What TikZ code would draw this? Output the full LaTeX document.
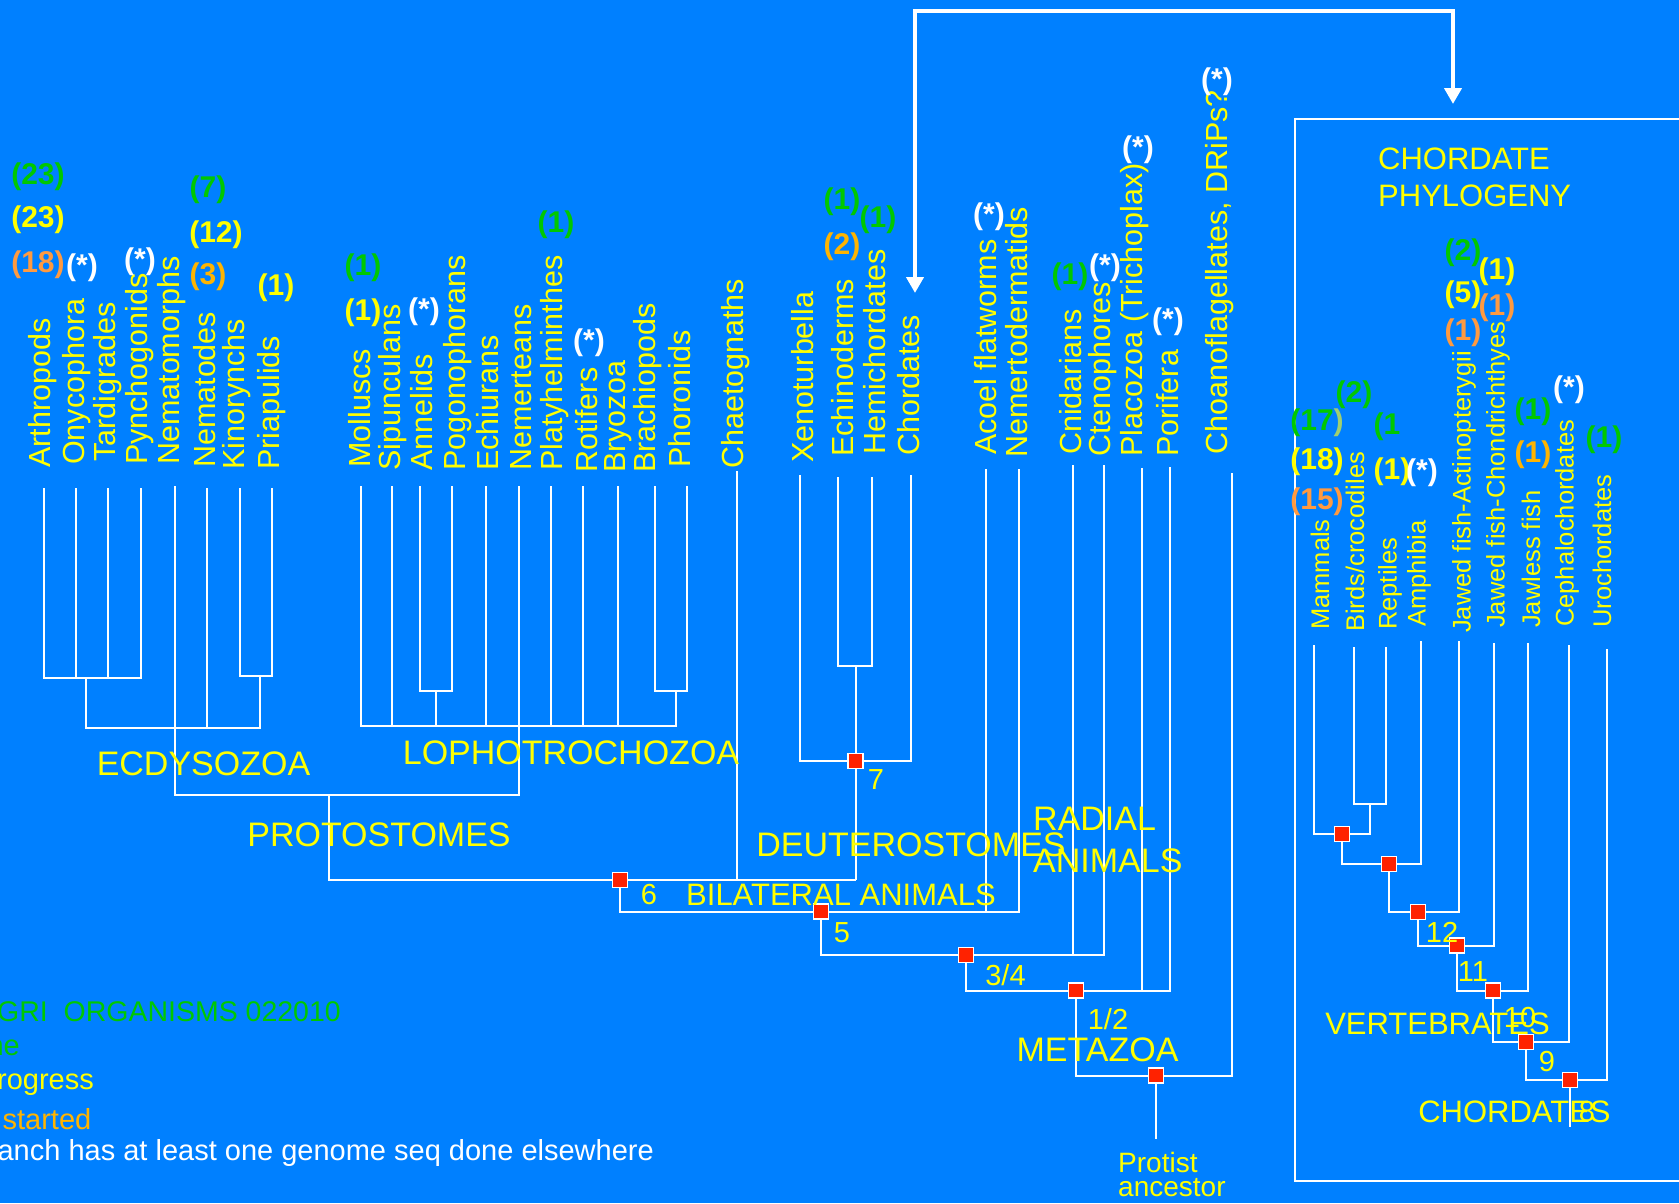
\documentclass[tikz,border=0pt]{standalone}
\usepackage{fontspec}
\setmainfont{Liberation Sans}
\usepackage{tikz}
\usetikzlibrary{arrows.meta}
\definecolor{phBlue}{HTML}{0080FF}
\definecolor{phYellow}{HTML}{FFFF00}
\definecolor{phGreen}{HTML}{00C800}
\definecolor{phPale}{HTML}{A0D070}
\definecolor{phOrange}{HTML}{FF9A40}
\definecolor{phAmber}{HTML}{FFB400}
\definecolor{phRed}{HTML}{FF2200}

\begin{document}
\begin{tikzpicture}[x=1pt, y=-1pt,
  br/.style={white, line width=2pt},
  flow/.style={white, line width=4.3pt, {Triangle[width=17pt,length=16pt]}-{Triangle[width=17pt,length=16pt]}},
  taxon/.style={rotate=90, anchor=west, inner sep=0pt, text=phYellow, font=\fontsize{30.5}{30.5}\selectfont},
  ctaxon/.style={taxon, font=\fontsize{25.5}{25.5}\selectfont},
  cnt/.style={inner sep=0pt, font=\fontsize{30}{30}\selectfont\bfseries},
  grp/.style={inner sep=0pt, text=phYellow, font=\fontsize{34}{34}\selectfont},
  cgrp/.style={grp, font=\fontsize{31}{31}\selectfont},
  num/.style={inner sep=0pt, text=phYellow, font=\fontsize{29}{29}\selectfont},
  leg/.style={inner sep=0pt, anchor=east, font=\fontsize{29}{29}\selectfont},
  sq/.style={draw=white, line width=1.5pt, fill=phRed, minimum size=15pt, inner sep=0pt}]
  \useasboundingbox (0,0) rectangle (1679,1203);
  \fill[phBlue] (0,0) rectangle (1679,1203);

  \foreach \n/\x/\y in {Arth/44/488, Onyc/76/488, Tard/108/488, Pync/141/488, Nmtm/175/486,
      Nmtd/207/488, Kino/240/488, Pria/272/488, Moll/361/486, Sipu/392/486, Anne/420/486,
      Pogo/452/486, Echi/486/486, Nemr/519/486, Plat/551/486, Roti/583/486, Bryo/618/486,
      Brac/655/486, Phor/687/486, Chae/737/471, Xeno/800/475, Echn/838/477, Hemi/872/477,
      Chor/911/475, Acoe/986/469, Nemd/1019/469, Cnid/1073/465, Cten/1104/465, Plac/1142/468,
      Pori/1170/467, Choa/1232/473, Mamm/1314/645, Bird/1354/647, Rept/1386/647, Amph/1421/641,
      Actn/1459/641, Chon/1494/643, Jawl/1528/643, Ceph/1569/645, Uroc/1607/649}
    \coordinate (t\n) at (\x,\y);

  \coordinate (jAP) at (86,678);   \coordinate (jKP) at (260,676);  \coordinate (jEc) at (175,728);
  \coordinate (jAnP) at (436,691); \coordinate (jBrP) at (675.5,691); \coordinate (jLo) at (519,726);
  \coordinate (jPr) at (329,795);  \coordinate (j6) at (620,880);   \coordinate (jEH) at (855.7,666);
  \coordinate (j7) at (855.7,761); \coordinate (j5) at (821,911.7); \coordinate (j34) at (966,955);
  \coordinate (j12) at (1076,990.7); \coordinate (jMe) at (1156,1075.7); \coordinate (prot) at (1156,1139);
  \coordinate (jBR) at (1370,804); \coordinate (jM) at (1342,834);  \coordinate (jA) at (1389,864);
  \coordinate (j12c) at (1418,912); \coordinate (j11) at (1457,945.5); \coordinate (j10) at (1493,990.7);
  \coordinate (j9) at (1526,1042); \coordinate (j8) at (1570,1080); \coordinate (cRoot) at (1570,1127);
  \coordinate (aL) at (915,293);   \coordinate (aT) at (1184,10.7); \coordinate (aR) at (1453,104);

  \draw[br] (tArth) |- (jAP) -| (tPync);
  \draw[br] (tOnyc) -- (tOnyc |- jAP); \draw[br] (tTard) -- (tTard |- jAP);
  \draw[br] (tKino) |- (jKP) -| (tPria);
  \draw[br] (jAP) |- (jEc) -| (jKP);
  \draw[br] (tNmtd) -- (tNmtd |- jEc);
  \draw[br] (tNmtm) |- (jPr) -| (jLo);
  \draw[br] (tAnne) |- (jAnP) -| (tPogo);
  \draw[br] (tBrac) |- (jBrP) -| (tPhor);
  \draw[br] (tMoll) |- (jLo) -| (jBrP);
  \foreach \n in {Sipu,Echi,Nemr,Plat,Roti,Bryo} \draw[br] (t\n) -- (t\n |- jLo);
  \draw[br] (jAnP) -- (jAnP |- jLo);
  \draw[br] (jPr) |- (jEH |- j6);
  \draw[br] (tChae) -- (tChae |- j6);
  \draw[br] (tEchn) |- (jEH) -| (tHemi);
  \draw[br] (jEH) -- (jEH |- j6);
  \draw[br] (tXeno) |- (j7) -| (tChor);
  \draw[br] (j6) |- (j5) -| (tNemd);
  \draw[br] (tAcoe) -- (tAcoe |- j5);
  \draw[br] (j5) |- (j34) -| (tCten);
  \draw[br] (tCnid) -- (tCnid |- j34);
  \draw[br] (j34) |- (j12) -| (tPori);
  \draw[br] (tPlac) -- (tPlac |- j12);
  \draw[br] (j12) |- (jMe) -| (tChoa);
  \draw[br] (jMe) -- (prot);

  \draw[br] (tBird) |- (jBR) -| (tRept);
  \draw[br] (tMamm) |- (jM) -| (jBR);
  \draw[br] (jM) |- (jA) -| (tAmph);
  \draw[br] (jA) |- (j12c) -| (tActn);
  \draw[br] (j12c) |- (j11) -| (tChon);
  \draw[br] (j11) |- (j10) -| (tJawl);
  \draw[br] (j10) |- (j9) -| (tCeph);
  \draw[br] (j9) |- (j8) -| (tUroc);
  \draw[br] (j8) -- (cRoot);

  \foreach \j in {j6,j7,j5,j34,j12,jMe,jM,jA,j12c,j11,j10,j9,j8} \node[sq] (n\j) at (\j) {};

  \draw[flow] (aL) |- (aT) -| (aR);
  \draw[white, line width=1.6pt] (1681,119) -| (1295,1181) -- (1681,1181);

  \foreach \n/\x/\y/\t in {arth/43/468/Arthropods, onyc/77/465/Onycophora, tard/108/462/Tardigrades,
      pync/140/465/Pynchogonids, nmtm/172/465/Nematomorphs, nmtd/205/468/Nematodes,
      kino/237/470/Kinorynchs, pria/272/470/Priapulids, moll/360/468/Molluscs,
      sipu/393/471/Sipunculans, anne/422/471/Annelids, pogo/458/471/Pogonophorans,
      echi/488/471/Echiurans, nemr/521/471/Nemerteans, plat/555/471/Platyhelminthes,
      roti/587/473/Rotifers, bryo/618/473/Bryozoa, brac/648/473/Brachiopods,
      phor/680/468/Phoronids, chae/736/469/Chaetognaths, xeno/803/463/Xenoturbella,
      echn/843/457/Echinoderms, hemi/875/455/Hemichordates, chor/909/456/Chordates,
      acoe/986/455/Acoel flatworms, nemd/1017/458/Nemertodermatids, cnid/1071/455/Cnidarians,
      cten/1103/457/Ctenophores, plac/1135/457/Placozoa (Trichoplax), pori/1168/457/Porifera,
      choa/1220/455/{Choanoflagellates, DRiPs?}}
    \node[taxon] (\n) at (\x,\y) {\t};
  \foreach \n/\x/\y/\t in {mamm/1320/630/Mammals, bird/1355/632/{Birds/crocodiles},
      rept/1390/630/Reptiles, amph/1419/627/Amphibia, actn/1464/633/Jawed fish-Actinopterygii,
      chon/1498/628/Jawed fish-Chondrichthyes, jawl/1531/628/Jawless fish,
      ceph/1567/627/Cephalochordates, uroc/1602/628/Urochordates}
    \node[ctaxon] (\n) at (\x,\y) {\t};

  \foreach \x/\y/\c/\t [count=\i] in {38/177/phGreen/(23), 38/220/phYellow/(23), 38/265/phOrange/(18),
      82/268/white/(*), 140/262/white/(*), 208/190/phGreen/(7), 216/235/phYellow/(12),
      208/277/phAmber/(3), 276/288/phYellow/(1), 363/268/phGreen/(1), 363/313/phYellow/(1),
      424/312/white/(*), 556/225/phGreen/(1), 589/343/white/(*), 842/202/phGreen/(1),
      842/247/phAmber/(2), 878/220/phGreen/(1), 989/217/white/(*), 1070/277/phGreen/(1),
      1105/268/white/(*), 1138/150/white/(*), 1168/322/white/(*), 1217/82/white/(*),
      1317/462/phYellow/(18), 1317/502/phOrange/(15), 1354/395/phGreen/(2), 1387/427/phGreen/(1,
      1392/472/phYellow/(1), 1422/473/white/(*), 1463/253/phGreen/(2), 1463/295/phYellow/(5),
      1463/333/phOrange/(1), 1497/272/phYellow/(1), 1497/308/phOrange/(1), 1533/412/phGreen/(1),
      1533/455/phAmber/(1), 1569/390/white/(*), 1604/440/phGreen/(1)}
    \node[cnt, text=\c] (c\i) at (\x,\y) {\t};
  \node[cnt] (c17) at (1317,423) {\textcolor{phGreen}{(17}\textcolor{phPale}{)}};

  \node[grp] (ecd) at (203.5,763.5) {ECDYSOZOA};
  \node[grp] (lop) at (571,752.5) {LOPHOTROCHOZOA};
  \node[grp] (pro) at (379,835) {PROTOSTOMES};
  \node[grp] (deu) at (911,845) {DEUTEROSTOMES};
  \node[cgrp, anchor=west] (bil) at (686,895) {BILATERAL ANIMALS};
  \node[grp, anchor=west] (rad1) at (1033,819) {RADIAL};
  \node[grp, anchor=west] (rad2) at (1033,861) {ANIMALS};
  \node[grp] (met) at (1097.5,1050) {METAZOA};
  \node[num] (l6) at (649,895) {6};
  \node[num] (l7) at (876,780) {7};
  \node[num] (l5) at (842,933) {5};
  \node[num] (l34) at (1005.5,975) {3/4};
  \node[num] (l12) at (1108,1019) {1/2};
  \node[num, anchor=base west, font=\fontsize{28}{28}\selectfont] (pr1) at (1118,1172.7) {Protist};
  \node[num, anchor=base west, font=\fontsize{28}{28}\selectfont] (pr2) at (1118,1196.7) {ancestor};

  \node[cgrp, anchor=west] (ch1) at (1378,158.5) {CHORDATE};
  \node[cgrp, anchor=west] (ch2) at (1378,196) {PHYLOGENY};
  \node[cgrp] (vert) at (1437.5,1024) {VERTEBRATES};
  \node[cgrp] (chds) at (1514.5,1112) {CHORDATES};
  \node[num] (c12) at (1442,932) {12};
  \node[num] (c11) at (1473,972) {11};
  \node[num] (c10) at (1520,1018) {10};
  \node[num] (c9) at (1547,1062) {9};
  \node[num] (c8) at (1587,1112) {8};

  \node[leg, text=phGreen, font=\fontsize{28.5}{28.5}\selectfont] (lg1) at (341,1012) {GRI\ \ ORGANISMS 022010};
  \node[leg, text=phGreen] (lg2) at (20,1048) {ne};
  \node[leg, text=phYellow] (lg3) at (94,1085) {rogress};
  \node[leg, text=phAmber] (lg4) at (91.5,1119) {started};
  \node[leg, text=white] (lg5) at (654,1153) {anch has at least one genome seq done elsewhere};
\end{tikzpicture}
\end{document}
